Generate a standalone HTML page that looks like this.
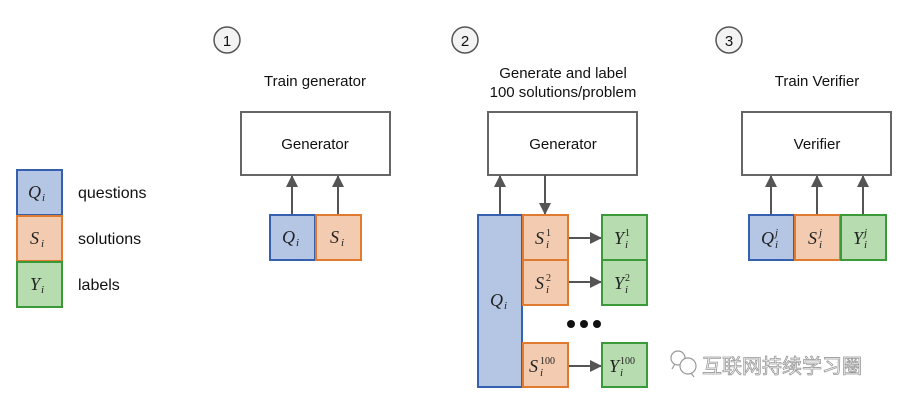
<!DOCTYPE html>
<html><head><meta charset="utf-8"><style>
html,body{margin:0;padding:0;background:#fff;}
svg{display:block;}
.t{font-family:"Liberation Sans",sans-serif;font-size:15px;fill:#111;}
.m{font-family:"Liberation Serif",serif;font-style:italic;font-size:18px;fill:#222;}
.s{font-size:11px;}
.u{font-size:10px;font-style:normal;}
</style></head><body>
<svg width="911" height="406" viewBox="0 0 911 406" xmlns="http://www.w3.org/2000/svg">
<defs><marker id="a" markerWidth="12" markerHeight="12" refX="11" refY="6" orient="auto" markerUnits="userSpaceOnUse"><path d="M0,0 L12,6 L0,12 Z" fill="#555"/></marker></defs>
<g fill="#f3f3f3" stroke="#555" stroke-width="1.5">
<circle cx="227" cy="40" r="13"/><circle cx="465" cy="40" r="13"/><circle cx="729" cy="40" r="13"/></g>
<g fill="#fff" stroke="#666" stroke-width="2">
<rect x="241" y="112" width="149" height="63"/><rect x="488" y="112" width="149" height="63"/><rect x="742" y="112" width="149" height="63"/></g>
<g class="t" text-anchor="middle">
<text x="227" y="46">1</text><text x="465" y="46">2</text><text x="729" y="46">3</text>
<text x="315" y="86">Train generator</text>
<text x="563" y="78">Generate and label</text>
<text x="563" y="97">100 solutions/problem</text>
<text x="817" y="86">Train Verifier</text>
<text x="315" y="149">Generator</text>
<text x="563" y="149">Generator</text>
<text x="817" y="149">Verifier</text>
</g>
<g stroke="#555" stroke-width="2" marker-end="url(#a)">
<line x1="292" y1="215" x2="292" y2="176"/><line x1="338" y1="215" x2="338" y2="176"/>
<line x1="500" y1="215" x2="500" y2="176"/><line x1="545" y1="175" x2="545" y2="214"/>
<line x1="771" y1="215" x2="771" y2="176"/><line x1="817" y1="215" x2="817" y2="176"/><line x1="863" y1="215" x2="863" y2="176"/>
<line x1="568" y1="238" x2="601" y2="238"/><line x1="568" y1="282" x2="601" y2="282"/><line x1="568" y1="366" x2="601" y2="366"/>
</g>
<g stroke-width="2">
<g fill="#b4c6e4" stroke="#3560b0">
<rect x="17" y="170" width="45" height="45"/><rect x="270" y="215" width="45" height="45"/><rect x="478" y="215" width="44" height="172"/><rect x="749" y="215" width="45" height="45"/></g>
<g fill="#f3cbb0" stroke="#e07a30">
<rect x="17" y="216" width="45" height="45"/><rect x="316" y="215" width="45" height="45"/>
<rect x="523" y="215" width="45" height="45"/><rect x="523" y="260" width="45" height="45"/><rect x="523" y="343" width="45" height="44"/>
<rect x="795" y="215" width="45" height="45"/></g>
<g fill="#b6dcaf" stroke="#3a9a3a">
<rect x="17" y="262" width="45" height="45"/>
<rect x="602" y="215" width="45" height="45"/><rect x="602" y="260" width="45" height="45"/><rect x="602" y="343" width="45" height="44"/>
<rect x="841" y="215" width="45" height="45"/></g>
</g>
<g class="m">
<text x="28" y="198">Q</text><text class="s" x="42" y="201">i</text>
<text x="30" y="244">S</text><text class="s" x="41" y="247">i</text>
<text x="30" y="290">Y</text><text class="s" x="41" y="293">i</text>
<text x="282" y="243">Q</text><text class="s" x="296" y="246">i</text>
<text x="330" y="243">S</text><text class="s" x="341" y="246">i</text>
<text x="490" y="306">Q</text><text class="s" x="504" y="309">i</text>
<text x="535" y="244">S</text><text class="s" x="546" y="248">i</text><text class="u" x="546" y="236">1</text>
<text x="535" y="289">S</text><text class="s" x="546" y="293">i</text><text class="u" x="546" y="281">2</text>
<text x="529" y="372">S</text><text class="s" x="540" y="376">i</text><text class="u" x="540" y="364">100</text>
<text x="614" y="244">Y</text><text class="s" x="625" y="248">i</text><text class="u" x="625" y="236">1</text>
<text x="614" y="289">Y</text><text class="s" x="625" y="293">i</text><text class="u" x="625" y="281">2</text>
<text x="609" y="372">Y</text><text class="s" x="620" y="376">i</text><text class="u" x="620" y="364">100</text>
<text x="761" y="244">Q</text><text class="s" x="775" y="248">i</text><text class="s" x="775" y="236">j</text>
<text x="808" y="244">S</text><text class="s" x="819" y="248">i</text><text class="s" x="819" y="236">j</text>
<text x="853" y="244">Y</text><text class="s" x="864" y="248">i</text><text class="s" x="864" y="236">j</text>
</g>
<g class="t" font-size="16">
<text x="78" y="198" font-size="16">questions</text><text x="78" y="244" font-size="16">solutions</text><text x="78" y="290" font-size="16">labels</text>
</g>
<g fill="#111"><circle cx="571" cy="324" r="4"/><circle cx="584" cy="324" r="4"/><circle cx="597" cy="324" r="4"/></g>
<g fill="none" stroke="#999" stroke-width="1.2">
<circle cx="678" cy="358" r="7"/><circle cx="688" cy="366" r="8" fill="#fff"/>
<path d="M675 364 l-3 5"/><path d="M691 373 l3 4"/></g>
<text x="702" y="373" font-family="'Liberation Sans','Noto Sans CJK SC',sans-serif" font-size="20" fill="#fff" stroke="#999" stroke-width="0.8">互联网持续学习圈</text>
</svg>
</body></html>
